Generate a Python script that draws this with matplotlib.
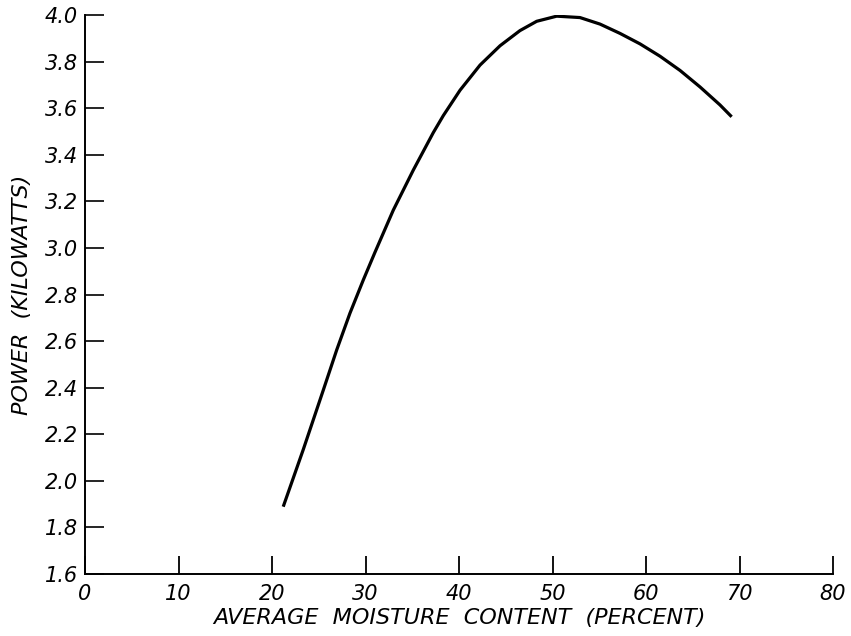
import matplotlib
matplotlib.use("Agg")
import matplotlib.pyplot as plt

# curve
moisture = [21.2, 23.35, 25.49, 26.92, 28.34, 29.76, 31.0, 32.97, 35.11, 37.25,
            38.32, 40.11, 42.25, 44.39, 46.52, 48.31, 50.45, 52.94, 55.08,
            57.22, 59.36, 61.5, 63.64, 65.78, 67.91, 69.16]
power_kw = [1.889, 2.135, 2.39, 2.562, 2.72, 2.862, 2.98, 3.162, 3.334, 3.495,
            3.568, 3.677, 3.785, 3.868, 3.933, 3.973, 3.995, 3.989, 3.961,
            3.921, 3.876, 3.823, 3.762, 3.691, 3.614, 3.563]

x_ticks = [0, 10, 20, 30, 40, 50, 60, 70, 80]
x_labels = ["0", "10", "20", "30", "40", "50", "60", "70", "80"]
y_ticks = [1.6, 1.8, 2.0, 2.2, 2.4, 2.6, 2.8, 3.0, 3.2, 3.4, 3.6, 3.8, 4.0]
y_labels = ["1.6", "1.8", "2.0", "2.2", "2.4", "2.6", "2.8", "3.0",
            "3.2", "3.4", "3.6", "3.8", "4.0"]

fig = plt.figure(figsize=(8.51, 6.36), dpi=100)
ax = fig.add_axes([85 / 851, 62 / 636, (833 - 85) / 851, (574 - 15) / 636])

ax.plot(moisture, power_kw, color="black", linewidth=2.3,
        solid_joinstyle="round", solid_capstyle="butt")

ax.set_xlim(0, 80)
ax.set_ylim(1.6, 4.0)

ax.spines["top"].set_visible(False)
ax.spines["right"].set_visible(False)
ax.spines["left"].set_linewidth(1.4)
ax.spines["bottom"].set_linewidth(1.4)

ax.set_xticks(x_ticks)
ax.set_xticklabels(x_labels, fontsize=15, style="italic")
ax.set_yticks(y_ticks)
ax.set_yticklabels(y_labels, fontsize=15, style="italic")
ax.tick_params(axis="x", direction="in", length=13, width=1.3, pad=7)
ax.tick_params(axis="y", direction="in", length=14, width=1.2, pad=5)

ax.set_xlabel("AVERAGE  MOISTURE  CONTENT  (PERCENT)", fontsize=16,
              style="italic", labelpad=3)
ax.set_ylabel("POWER  (KILOWATTS)", fontsize=16, style="italic", labelpad=9)

fig.savefig("out.png", dpi=100)
